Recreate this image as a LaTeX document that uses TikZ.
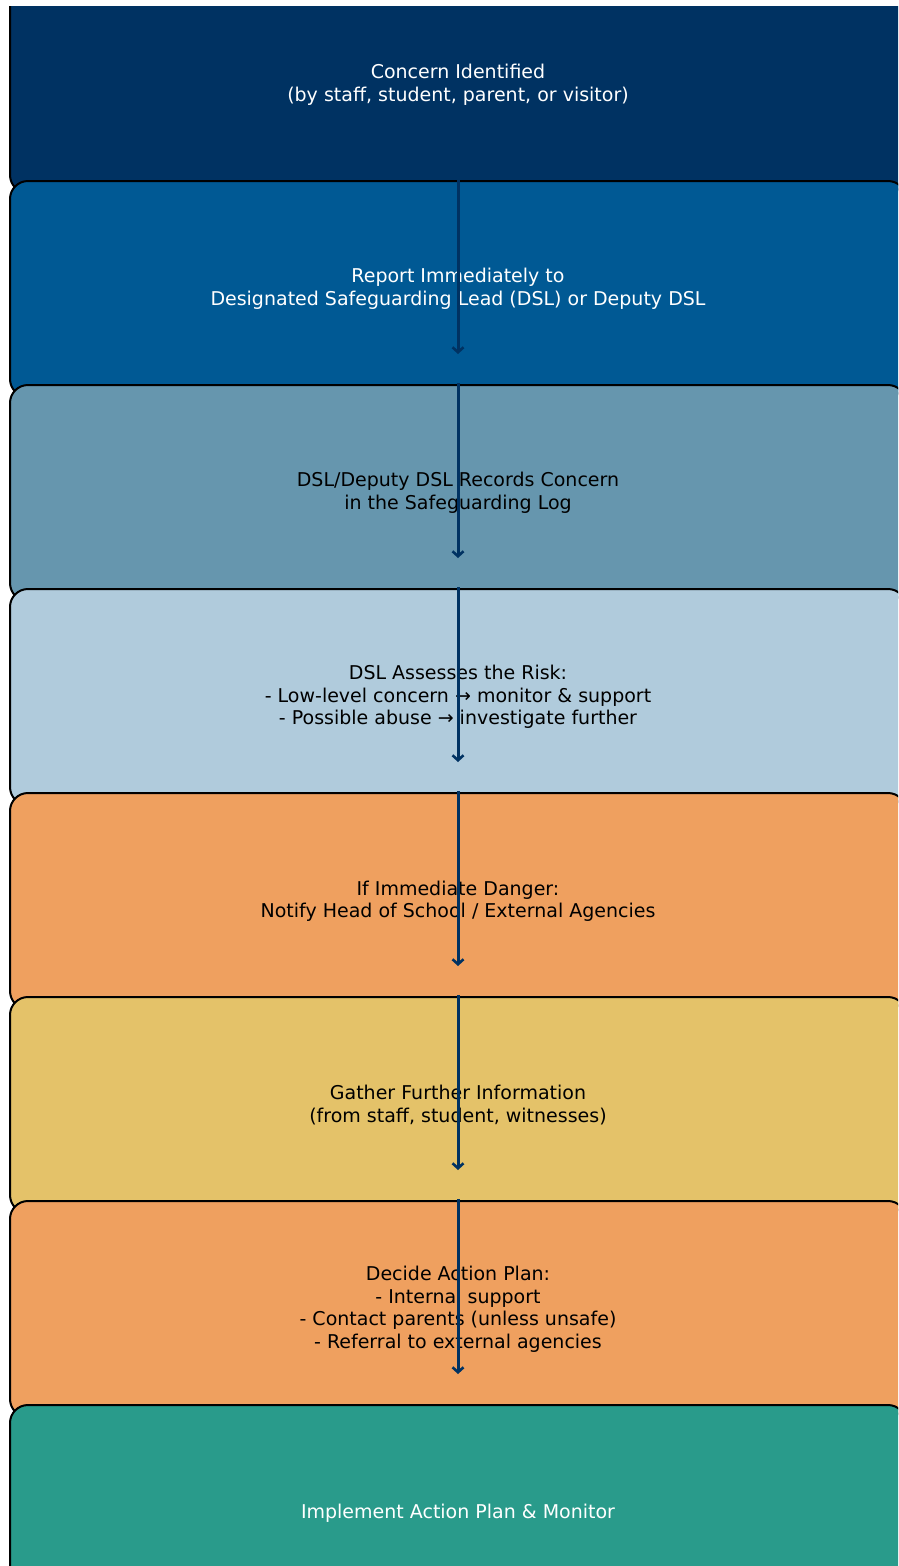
\documentclass[tikz,border=0pt]{standalone}
\usepackage{fontspec}
\setmainfont{DejaVu Sans}
\usetikzlibrary{arrows.meta}
\definecolor{navy}{HTML}{003262}
\definecolor{midblue}{HTML}{005994}
\definecolor{steel}{HTML}{6696AE}
\definecolor{paleblue}{HTML}{B0CBDC}
\definecolor{sandy}{HTML}{EFA05F}
\definecolor{mustard}{HTML}{E4C269}
\definecolor{teal}{HTML}{299B8B}

\begin{document}
\begin{tikzpicture}[x=1pt,y=1pt,
   stepbox/.style={draw=black,line width=2pt,rounded corners=18pt,
      minimum width=896pt,minimum height=216pt,align=center,
      font=\fontsize{19}{22.5}\selectfont},
   flowarrow/.style={draw=navy,line width=3pt,-{Straight Barb[length=5pt,width=11pt,line width=2.6pt]}}]
   \fill[white] (0,0) rectangle (898,-1566);
   \clip (0,-6) rectangle (898,-1566);
   % the eight steps, each one laid over the one above
   \node[stepbox,fill=navy,text=white] (concern) at (458,-85) {Concern Identified\\(by staff, student, parent, or visitor)};
   \node[stepbox,fill=midblue,text=white] (report) at (458,-289) {Report Immediately to\\Designated Safeguarding Lead (DSL) or Deputy DSL};
   \node[stepbox,fill=steel] (records) at (458,-493) {DSL/Deputy DSL Records Concern\\in the Safeguarding Log};
   \node[stepbox,fill=paleblue] (assess) at (458,-697) {DSL Assesses the Risk:\\- Low-level concern → monitor \& support\\- Possible abuse → investigate further};
   \node[stepbox,fill=sandy] (danger) at (458,-901) {If Immediate Danger:\\Notify Head of School / External Agencies};
   \node[stepbox,fill=mustard] (gather) at (458,-1105) {Gather Further Information\\(from staff, student, witnesses)};
   \node[stepbox,fill=sandy] (decide) at (458,-1309) {Decide Action Plan:\\- Internal support\\- Contact parents (unless unsafe)\\- Referral to external agencies};
   \node[stepbox,fill=teal,text=white] (implement) at (458,-1513) {Implement Action Plan \& Monitor};
   % arrows go on top of everything
   \draw[flowarrow] ([yshift=15]concern.south) -- ([yshift=44]report.south);
   \draw[flowarrow] ([yshift=15]report.south) -- ([yshift=44]records.south);
   \draw[flowarrow] ([yshift=15]records.south) -- ([yshift=44]assess.south);
   \draw[flowarrow] ([yshift=15]assess.south) -- ([yshift=44]danger.south);
   \draw[flowarrow] ([yshift=15]danger.south) -- ([yshift=44]gather.south);
   \draw[flowarrow] ([yshift=15]gather.south) -- ([yshift=44]decide.south);
\end{tikzpicture}
\end{document}
